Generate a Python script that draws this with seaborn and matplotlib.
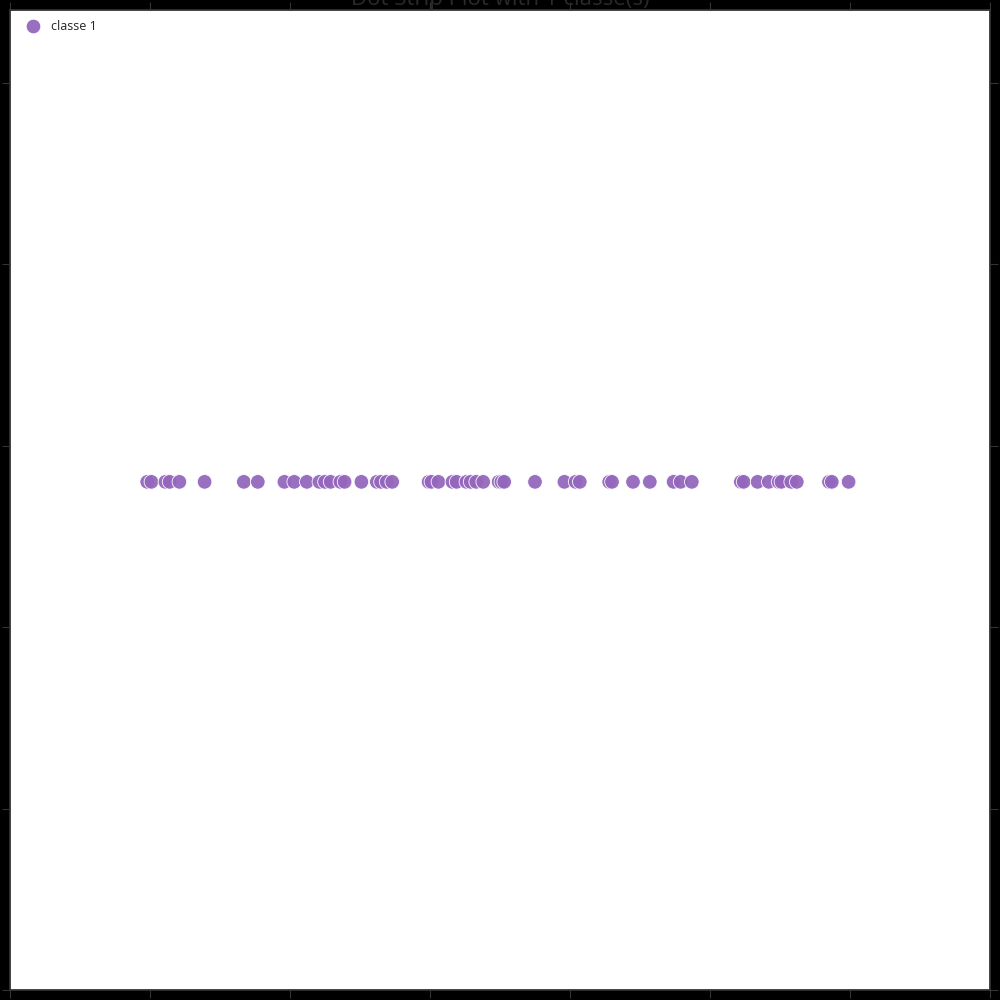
import matplotlib
matplotlib.use('Agg')
import matplotlib.pyplot as plt
import numpy as np
import pandas as pd
import seaborn as sns

# values
values = [0.98, 1.01, 1.11, 1.14, 1.21, 1.39, 1.67, 1.77, 1.96, 2.03,
          2.12, 2.21, 2.25, 2.29, 2.36, 2.39, 2.51, 2.62, 2.65, 2.69,
          2.73, 2.99, 3.01, 3.06, 3.16, 3.19, 3.26, 3.29, 3.33, 3.38,
          3.49, 3.51, 3.53, 3.75, 3.96, 4.04, 4.07, 4.28, 4.30, 4.45,
          4.57, 4.74, 4.79, 4.87, 5.22, 5.24, 5.34, 5.42, 5.49, 5.51,
          5.58, 5.62, 5.85, 5.87, 5.99]
row_level = -0.2
classes = ['classe 1'] * len(values)
palette = ['#9467bd']
title = 'Dot Strip Plot with 1 classe(s)'

df = pd.DataFrame({'x': values, 'y': [row_level] * len(values), 'classe': classes})

sns.set_style('white')
plt.rcParams['font.family'] = ['Open Sans', 'DejaVu Sans']

fig = plt.figure(figsize=(10, 10), dpi=100, facecolor='black')
ax = fig.add_axes([0.01, 0.01, 0.98, 0.98])
ax.set_facecolor('white')

sns.scatterplot(data=df, x='x', y='y', hue='classe', palette=palette,
                s=110, alpha=0.95, edgecolor='white', linewidth=0.6, ax=ax)

ax.set_xlim(0, 7)
ax.set_ylim(-3, 2.4)
ax.set_xticks(np.arange(0, 8, 1))
ax.set_yticks(np.arange(-3, 3, 1))
ax.set_xlabel('')
ax.set_ylabel('')
# the tick labels fall outside the figure in the reference, so none are drawn
ax.tick_params(axis='both', which='both', direction='out', length=6, width=0.8,
               color='#333333', top=True, right=True, bottom=True, left=True,
               labelbottom=False, labelleft=False)
for sp in ax.spines.values():
    sp.set_color('#333333')
    sp.set_linewidth(1.3)

# the reference title sits half above the figure edge
ax.set_title(title, fontsize=16, color='#2a2a2a', pad=2)

leg = ax.legend(loc='upper left', frameon=False, fontsize=9,
                borderaxespad=0.4, handletextpad=0.5, markerscale=1.0)
for h in leg.legend_handles:
    h.set_alpha(0.95)

fig.savefig('out.png', dpi=100, facecolor='black')
